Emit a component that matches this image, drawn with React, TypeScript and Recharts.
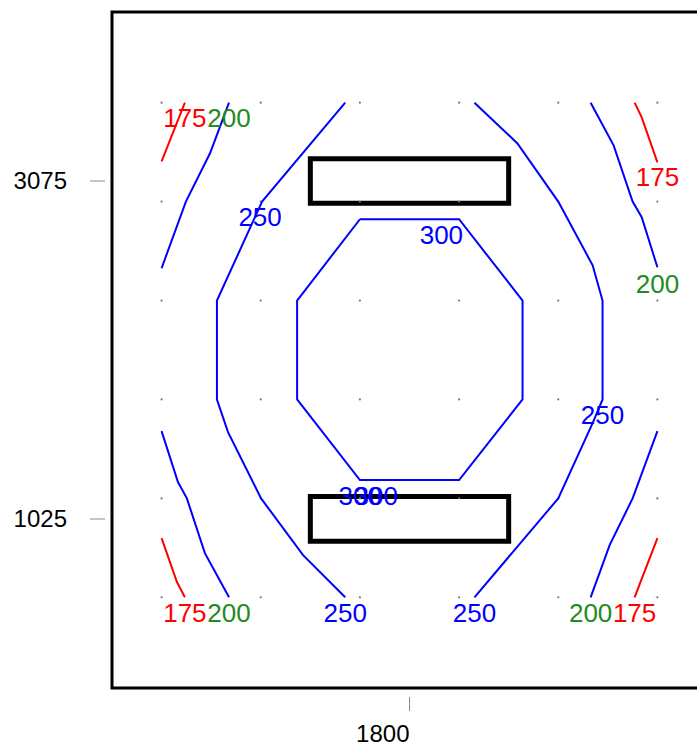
import React from "react";
import { ComposedChart, Scatter, XAxis, YAxis, ReferenceArea } from "recharts";

// Axis ticks
const xTicks = [1800];
const yTicks = [1025, 3075];

// Grid of data points
const gridX = [300, 900, 1500, 2100, 2700, 3300];
const gridY = [550, 1150, 1750, 2350, 2950, 3550];

// Beams (black rectangles): [x1, x2, y1, y2]
const beamTop = [1200, 2400, 2940, 3210];
const beamBottom = [1200, 2400, 890, 1162];

// Contour lines [x, y]
const red175TL = [[300, 3194], [441, 3550]];
const blue200TL = [[708, 3550], [593, 3243], [447, 2950], [300, 2546]];
const blue250L = [[1411, 3550], [908, 2950], [635, 2350], [635, 1750], [702, 1552], [902, 1150], [1156, 806], [1411, 550]];
const blue300 = [[1500, 2843], [2100, 2843], [2484, 2350], [2484, 1750], [2100, 1261], [1500, 1261], [1120, 1750], [1120, 2350], [1500, 2843]];
const red175BL = [[300, 909], [393, 643], [441, 550]];
const blue200BL = [[300, 1558], [399, 1249], [453, 1150], [562, 818], [708, 550]];
const blue250R = [[2193, 3550], [2453, 3303], [2700, 2950], [2908, 2564], [2968, 2350], [2968, 1750], [2908, 1606], [2700, 1150], [2193, 550]];
const blue200TR = [[2896, 3550], [3035, 3291], [3150, 2950], [3205, 2855], [3300, 2552]];
const red175TR = [[3162, 3550], [3205, 3461], [3300, 3188]];
const blue200BR = [[3300, 1558], [3150, 1150], [3011, 867], [2896, 550]];
const red175BR = [[3300, 909], [3162, 550]];

// Contour labels [x, y, text]
const labels175: [number, number, string][] = [[441, 3455, "175"], [3300, 3097, "175"], [441, 455, "175"], [3162, 455, "175"]];
const labels200: [number, number, string][] = [[708, 3455, "200"], [3300, 2449, "200"], [708, 455, "200"], [2896, 455, "200"]];
const labels250: [number, number, string][] = [[896, 2855, "250"], [2968, 1655, "250"], [1411, 455, "250"], [2193, 455, "250"]];
const labels300: [number, number, string][] = [[1993, 2746, "300"], [1502, 1164, "300"], [1599, 1164, "300"]];

const toPts = (arr: number[][]) => arr.map(([x, y]) => ({ x, y }));
const toLabels = (arr: [number, number, string][]) => arr.map(([x, y, t]) => ({ x, y, t }));

const gridDots = gridX.flatMap((x) => gridY.map((y) => ({ x, y })));

const BLUE = "#0000ff";
const RED = "#ff0000";
const GREEN = "#228b22";
const FONT = "'Liberation Sans', Arial, sans-serif";

const NoShape = () => <g />;

const DotShape = (props: any) => <circle cx={props.cx} cy={props.cy} r={1.1} fill="#777" />;

const makeLabelShape = (color: string) => (props: any) => (
  <text
    x={props.cx}
    y={props.cy}
    dy="0.35em"
    textAnchor="middle"
    fontSize={26}
    fontFamily={FONT}
    fill={color}
  >
    {props.payload.t}
  </text>
);

const YTick = (props: any) => {
  const { x, y, payload } = props;
  return (
    <g>
      <line x1={x - 22} x2={x - 7} y1={y} y2={y} stroke="#888" strokeWidth={1} />
      <text x={x - 45} y={y} dy="0.35em" textAnchor="end" fontSize={24} fontFamily={FONT} fill="#000">
        {payload.value}
      </text>
    </g>
  );
};

const XTick = (props: any) => {
  const { x, y, payload } = props;
  return (
    <g>
      <line x1={x} x2={x} y1={y + 9} y2={y + 23} stroke="#888" strokeWidth={1} />
      <text x={x} y={y + 45.5} dy="0.35em" textAnchor="end" fontSize={24} fontFamily={FONT} fill="#000">
        {payload.value}
      </text>
    </g>
  );
};

const lineSeries: { pts: number[][]; color: string }[] = [
  { pts: red175TL, color: RED },
  { pts: blue200TL, color: BLUE },
  { pts: blue250L, color: BLUE },
  { pts: blue300, color: BLUE },
  { pts: red175BL, color: RED },
  { pts: blue200BL, color: BLUE },
  { pts: blue250R, color: BLUE },
  { pts: blue200TR, color: BLUE },
  { pts: red175TR, color: RED },
  { pts: blue200BR, color: BLUE },
  { pts: red175BR, color: RED },
];

export default function App() {
  return (
    <div style={{ width: 689, height: 739, overflow: "hidden" }}>
      <style>{`html{overflow:hidden} body{margin:8px 0 0 8px}`}</style>
      <ComposedChart
        width={720}
        height={739}
        margin={{ top: 4, right: 21, bottom: 0, left: 0 }}
      >
        <XAxis
          type="number"
          dataKey="x"
          domain={[0, 3600]}
          ticks={xTicks}
          height={59}
          tickSize={0}
          tickMargin={0}
          axisLine={false}
          tickLine={false}
          tick={<XTick />}
          allowDataOverflow
        />
        <YAxis
          type="number"
          dataKey="y"
          domain={[0, 4100]}
          ticks={yTicks}
          width={104}
          tickSize={0}
          tickMargin={0}
          axisLine={false}
          tickLine={false}
          tick={<YTick />}
          allowDataOverflow
        />
        <ReferenceArea x1={0} x2={3600} y1={0} y2={4100} fill="none" fillOpacity={0} stroke="#000" strokeWidth={3} />
        <Scatter data={gridDots} shape={DotShape} isAnimationActive={false} />
        {[beamTop, beamBottom].map((b, i) => (
          <ReferenceArea
            key={"beam" + i}
            x1={b[0]}
            x2={b[1]}
            y1={b[2]}
            y2={b[3]}
            fill="none"
            fillOpacity={0}
            stroke="#000"
            strokeWidth={5}
          />
        ))}
        {lineSeries.map((s, i) => (
          <Scatter
            key={"line" + i}
            data={toPts(s.pts)}
            line={{ stroke: s.color, strokeWidth: 2 }}
            lineType="joint"
            shape={NoShape}
            fill={s.color}
            isAnimationActive={false}
          />
        ))}
        <Scatter data={toLabels(labels175)} shape={makeLabelShape(RED)} isAnimationActive={false} />
        <Scatter data={toLabels(labels200)} shape={makeLabelShape(GREEN)} isAnimationActive={false} />
        <Scatter data={toLabels(labels250)} shape={makeLabelShape(BLUE)} isAnimationActive={false} />
        <Scatter data={toLabels(labels300)} shape={makeLabelShape(BLUE)} isAnimationActive={false} />
      </ComposedChart>
    </div>
  );
}
